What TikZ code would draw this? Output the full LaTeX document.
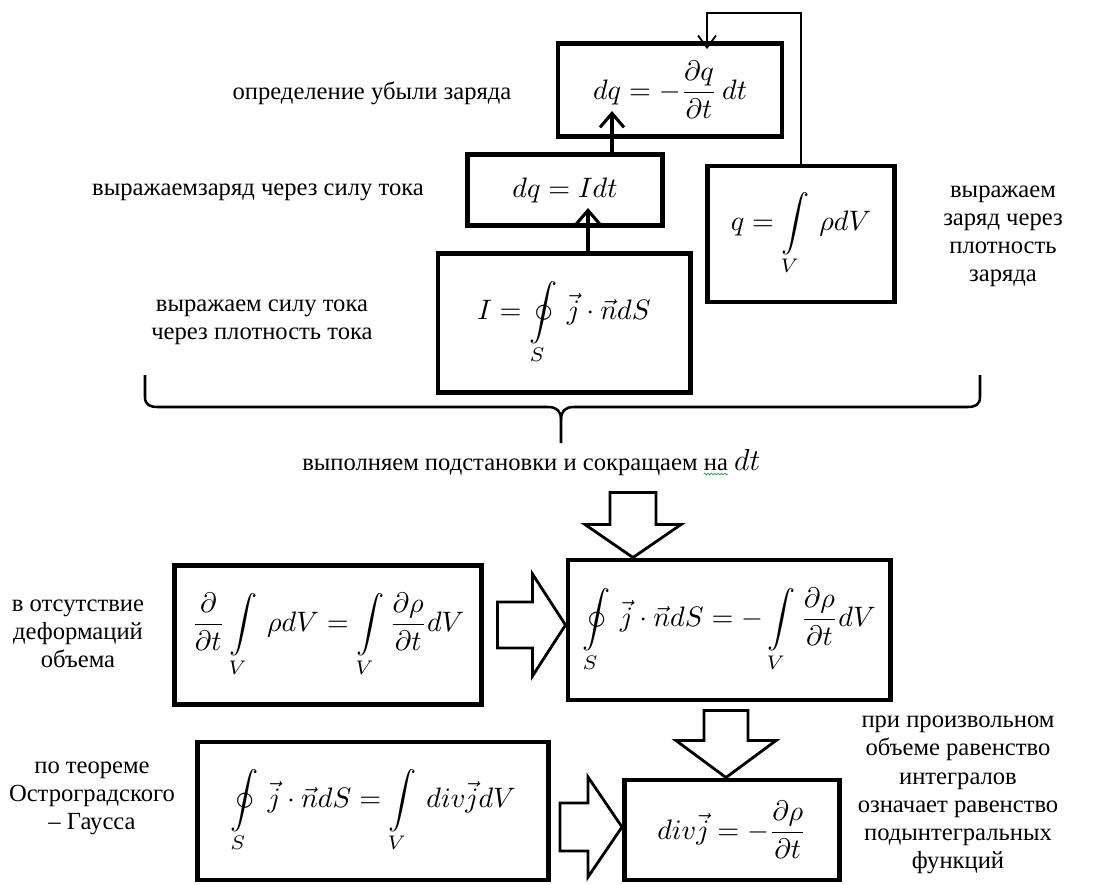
\documentclass[tikz,border=0pt]{standalone}
\usepackage{amsmath}
\usepackage{graphicx}
\usepackage{fontspec}
\setmainfont{Liberation Serif}
\usetikzlibrary{arrows.meta,decorations.pathmorphing}
\definecolor{spellgreen}{RGB}{70,165,95}
\newcommand{\formula}[1]{\scalebox{2.0}{$\displaystyle #1$}}

\begin{document}
\begin{tikzpicture}[x=0.025cm,y=-0.025cm,
    eqbox/.style={draw,line width=3.5pt,inner sep=0pt},
    note/.style={align=center,font=\fontsize{17.5}{20}\selectfont},
    link/.style={line width=2.2pt,-{Straight Barb[length=3.5mm,width=6mm]}},
    feedback/.style={line width=1.3pt,-{Straight Barb[length=3mm,width=4.5mm]}},
    hollow/.style={draw,line width=2pt,line join=miter,fill=white}]
  \useasboundingbox (0,0) rectangle (1099,884);

  % upper group
  \node[eqbox,minimum width=5.6cm,minimum height=2.325cm] (dqdef) at (670,90)
    {\formula{dq=-\frac{\partial q}{\partial t}\,dt}};
  \node[eqbox,minimum width=4.875cm,minimum height=1.775cm] (dqI) at (565,190)
    {\formula{dq=I dt}};
  \node[eqbox,minimum width=6.3cm,minimum height=3.475cm] (curI) at (564,323)
    {\formula{I=\oint\limits_S\,\vec{j}\cdot\vec{n}dS}};
  \node[eqbox,minimum width=4.675cm,minimum height=3.4cm] (charge) at (801,234)
    {\formula{q=\int\limits_V\,\rho dV}};

  \node[note] (lblLoss) at (372,93) {определение убыли заряда};
  \node[note] (lblViaCurrent) at (258,192) {выражаемзаряд через силу тока};
  \node[note] (lblCurDens) at (262,322) {выражаем силу тока\\через плотность тока};
  \node[note] (lblChargeDens) at (1003,236) {выражаем\\заряд через\\плотность\\заряда};

  \draw[link,shorten >=-5mm] (588,0 |- curI.north) -- (588,0 |- dqI.south);
  \draw[link,shorten >=-7mm] (612,0 |- dqI.north) -- (612,0 |- dqdef.south);
  \draw[feedback,shorten >=-2mm] (charge.north) |- (707,13) -- (707,0 |- dqdef.north);

  % brace
  \draw[line width=1.8pt,line join=round]
    (145,375) -- (145,397) .. controls (145,405) and (150,407) .. (158,407)
    -- (548,407) .. controls (557,407) and (561,411) .. (561,420) -- (561,443);
  \draw[line width=1.8pt,line join=round]
    (980,375) -- (980,397) .. controls (980,405) and (975,407) .. (967,407)
    -- (574,407) .. controls (565,407) and (561,411) .. (561,420);

  \node[note,inner sep=0pt,anchor=base west] (lblSubst) at (302,470)
    {выполняем подстановки и сокращаем};
  \node[note,inner sep=0pt,anchor=base west] (lblNa) at ([xshift=4pt]lblSubst.base east) {на};
  \node[note,inner sep=0pt,anchor=base west] (lblDt) at ([xshift=4pt]lblNa.base east)
    {\scalebox{1.25}{$dt$}};
  \draw[spellgreen,line width=0.6pt,decorate,
    decoration={snake,amplitude=0.6pt,segment length=2.4pt}]
    ([yshift=-2.5pt]lblNa.south west) -- ([yshift=-2.5pt]lblNa.south east);

  % lower group
  \node[eqbox,minimum width=7.675cm,minimum height=3.475cm] (ddt) at (328,635)
    {\formula{\frac{\partial}{\partial t}\int\limits_V\,\rho dV=\int\limits_V\frac{\partial\rho}{\partial t}dV}};
  \node[eqbox,minimum width=8.05cm,minimum height=3.5cm] (flux) at (729,630)
    {\formula{\oint\limits_S\,\vec{j}\cdot\vec{n}dS=-\int\limits_V\frac{\partial\rho}{\partial t}dV}};
  \node[eqbox,minimum width=8.775cm,minimum height=3.45cm] (gauss) at (373,811)
    {\formula{\oint\limits_S\,\vec{j}\cdot\vec{n}dS=\int\limits_V\,div\vec{j}dV}};
  \node[eqbox,minimum width=5.375cm,minimum height=2.5cm] (divj) at (732,830)
    {\formula{div\vec{j}=-\frac{\partial\rho}{\partial t}}};

  \node[note] (lblNoDeform) at (78,634) {в отсутствие\\деформаций\\объема};
  \node[note] (lblGauss) at (92,798) {по теореме\\Остроградского\\– Гаусса};
  \node[note] (lblArbitrary) at (958,795)
    {при произвольном\\объеме равенство\\интегралов\\означает равенство\\подынтегральных\\функций};

  % hollow arrows
  \draw[hollow] (633,0 |- flux.north) -- ++(-48,-33) -- ++(25,0) -- ++(0,-32)
    -- ++(46,0) -- ++(0,32) -- ++(25,0) -- cycle;
  \draw[hollow] (flux.west |- 0,625) -- ++(-33,-51) -- ++(0,28) -- ++(-35,0)
    -- ++(0,46) -- ++(35,0) -- ++(0,28) -- cycle;
  \draw[hollow] (726,0 |- divj.north) -- ++(-50,-37) -- ++(28,0) -- ++(0,-30)
    -- ++(44,0) -- ++(0,30) -- ++(28,0) -- cycle;
  \draw[hollow] (divj.west |- 0,827) -- ++(-34,-50) -- ++(0,26) -- ++(-28,0)
    -- ++(0,48) -- ++(28,0) -- ++(0,26) -- cycle;
\end{tikzpicture}
\end{document}
